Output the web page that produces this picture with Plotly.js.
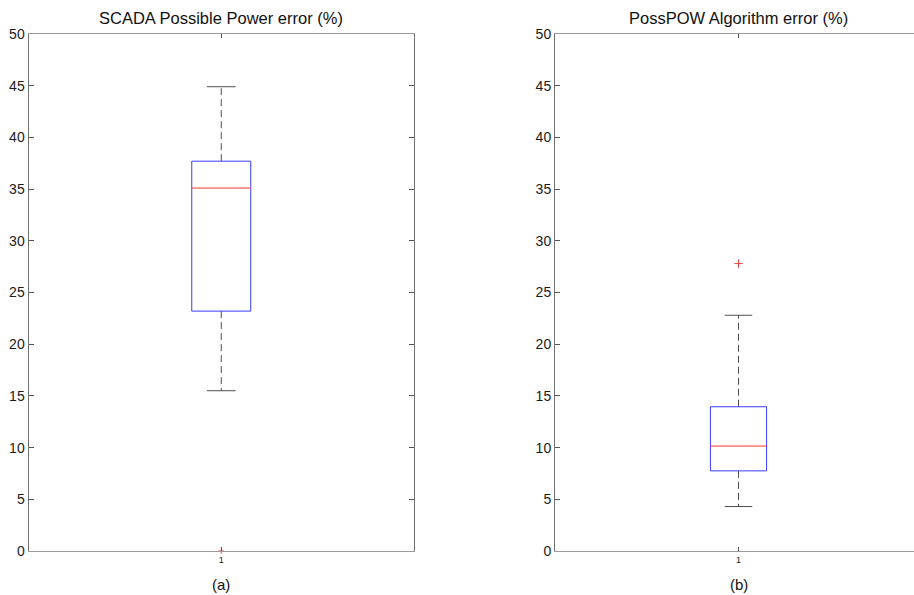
<!DOCTYPE html>
<html>
<head>
<meta charset="utf-8">
<script src="https://cdn.plot.ly/plotly-3.0.1.min.js"></script>
<style>html,body{margin:0;padding:0;background:#fff;}#chart{width:914px;height:595px;}</style>
</head>
<body>
<div id="chart"></div>
<script>
// ---- data ----
const panelTitles = ['SCADA Possible Power error (%)', 'PossPOW Algorithm error (%)'];
const panelLabels = ['(a)', '(b)'];
const groupTick = ['1'];
const lowerWhisker = [15.5, 4.3];
const q1 = [23.2, 7.75];
const median = [35.1, 10.15];
const q3 = [37.7, 13.95];
const upperWhisker = [44.9, 22.8];
const outliers = [[0], [27.8]];
const yTicks = [0, 5, 10, 15, 20, 25, 30, 35, 40, 45, 50];

// ---- style ----
const boxHalf = 0.0765;
const capHalf = 0.0375;
const pos = 1;
const dashPat = '7px,4px';
const whiskerColor = '#4d4d4d';
const FONT = 'Liberation Sans, Arial, sans-serif';

const traces = [];
for (let i = 0; i < 2; i++) {
  const xa = i === 0 ? 'x' : 'x2';
  const ya = i === 0 ? 'y' : 'y2';
  const base = {xaxis: xa, yaxis: ya, mode: 'lines', showlegend: false, hoverinfo: 'skip'};
  traces.push(Object.assign({}, base, {x: [pos, pos], y: [q3[i], upperWhisker[i]], line: {color: whiskerColor, width: 1, dash: dashPat}}));
  traces.push(Object.assign({}, base, {x: [pos, pos], y: [q1[i], lowerWhisker[i]], line: {color: whiskerColor, width: 1, dash: dashPat}}));
  traces.push(Object.assign({}, base, {x: [pos - capHalf, pos + capHalf], y: [upperWhisker[i], upperWhisker[i]], line: {color: whiskerColor, width: 1}}));
  traces.push(Object.assign({}, base, {x: [pos - capHalf, pos + capHalf], y: [lowerWhisker[i], lowerWhisker[i]], line: {color: whiskerColor, width: 1}}));
  traces.push(Object.assign({}, base, {
    x: [pos - boxHalf, pos + boxHalf, pos + boxHalf, pos - boxHalf, pos - boxHalf],
    y: [q1[i], q1[i], q3[i], q3[i], q1[i]],
    line: {color: '#3a3aff', width: 1}
  }));
  traces.push(Object.assign({}, base, {x: [pos - boxHalf, pos + boxHalf], y: [median[i], median[i]], line: {color: '#ff3030', width: 1}}));
  traces.push({
    xaxis: xa, yaxis: ya, mode: 'markers', showlegend: false, hoverinfo: 'skip', cliponaxis: false,
    x: outliers[i].map(() => pos), y: outliers[i],
    marker: {symbol: 'cross-thin', size: i === 0 ? 4 : 6, line: {color: '#ff4040', width: 1}}
  });
}

const axisY = {
  range: [0, 50], tickvals: yTicks, ticktext: yTicks.map(String),
  ticks: 'inside', ticklen: 5, tickcolor: '#555', showline: true, linecolor: '#707070', linewidth: 1,
  mirror: 'ticks', showgrid: false, zeroline: false,
  tickfont: {family: FONT, size: 14, color: '#1a1a1a'}
};
const axisX = {
  range: [0.5, 1.5], tickvals: [pos], ticktext: groupTick,
  ticks: 'inside', ticklen: 4, tickcolor: '#555', showline: true, linecolor: '#9a9a9a', linewidth: 1,
  mirror: 'ticks', showgrid: false, zeroline: false,
  tickfont: {family: FONT, size: 9, color: '#222'}
};

const W = 914, H = 595;
const xd1 = [28.5 / W, 414 / W];
// right panel extends past the picture edge (its right frame is cut off)
const rightFullWidth = 367;
const xd2 = [555 / W, 1];
const x2range = [0.5, 0.5 + (W - 555) / rightFullWidth];
const yd = [1 - 551 / H, 1 - 34 / H];

const titleFont = {family: FONT, size: 16.5, color: '#111'};
const labelFont = {family: FONT, size: 15, color: '#111'};

const layout = {
  width: W, height: H,
  margin: {l: 0, r: 0, t: 0, b: 0},
  paper_bgcolor: '#fff', plot_bgcolor: '#fff',
  showlegend: false,
  xaxis: Object.assign({}, axisX, {domain: xd1, anchor: 'y'}),
  yaxis: Object.assign({}, axisY, {domain: yd, anchor: 'x'}),
  xaxis2: Object.assign({}, axisX, {domain: xd2, anchor: 'y2', range: x2range}),
  yaxis2: Object.assign({}, axisY, {domain: yd, anchor: 'x2', mirror: false}),
  annotations: [
    {text: panelTitles[0], xref: 'x', yref: 'paper', x: pos, y: 1 - 18 / H, showarrow: false, xanchor: 'center', yanchor: 'middle', font: titleFont},
    {text: panelTitles[1], xref: 'x2', yref: 'paper', x: pos, y: 1 - 18 / H, showarrow: false, xanchor: 'center', yanchor: 'middle', font: titleFont},
    {text: panelLabels[0], xref: 'x', yref: 'paper', x: pos, y: 1 - 584 / H, showarrow: false, xanchor: 'center', yanchor: 'middle', font: labelFont},
    {text: panelLabels[1], xref: 'x2', yref: 'paper', x: pos, y: 1 - 584 / H, showarrow: false, xanchor: 'center', yanchor: 'middle', font: labelFont}
  ]
};

Plotly.newPlot('chart', traces, layout, {staticPlot: true, displayModeBar: false});
</script>
</body>
</html>
